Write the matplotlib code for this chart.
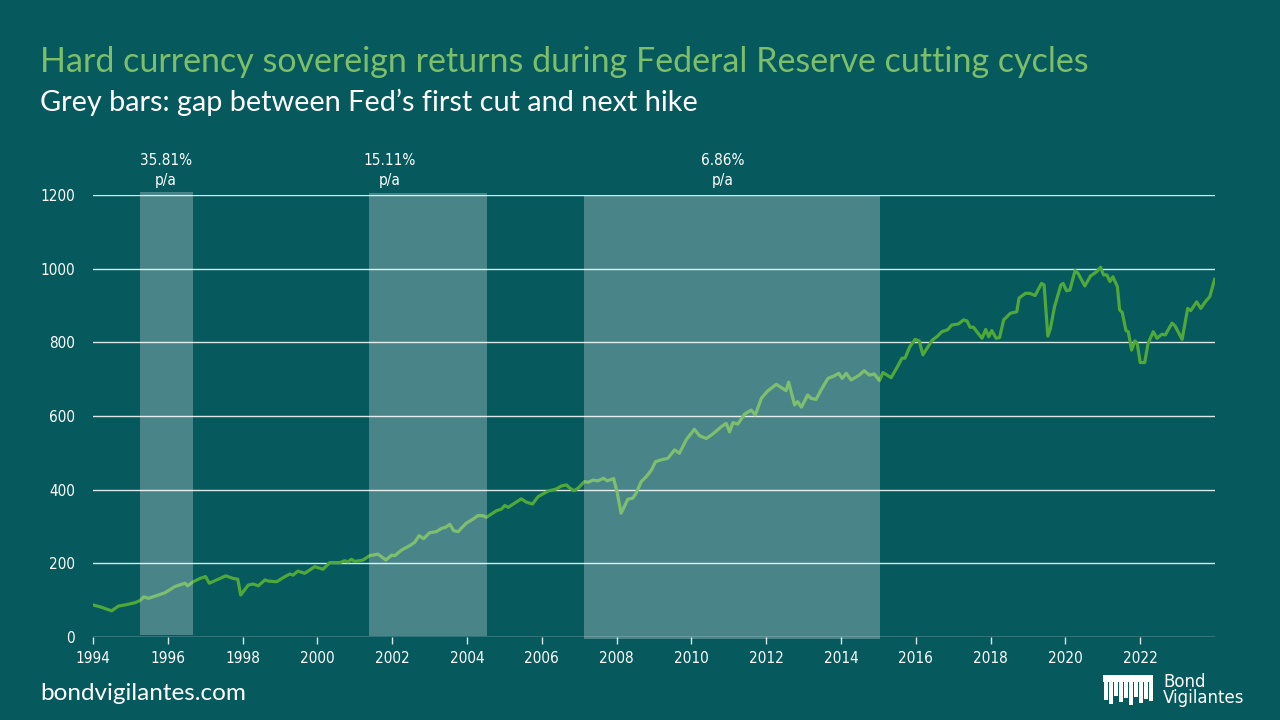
import matplotlib

matplotlib.use("Agg")
import matplotlib.pyplot as plt
from matplotlib.patches import Rectangle


BG = "#06595d"
LINE_GREEN = "#4ea83a"
TITLE_GREEN = "#7dbf69"
GRID = "#dce8e8"
NARROW = ["Liberation Sans Narrow", "DejaVu Sans"]

# decimal year / index level
dates = [
    1994.0, 1994.19, 1994.5, 1994.68, 1994.85, 1995.12, 1995.26, 1995.36, 1995.48, 1995.66,
    1995.92, 1996.19, 1996.46, 1996.53, 1996.68, 1996.86, 1997.01, 1997.11, 1997.35, 1997.55,
    1997.75, 1997.87, 1997.95, 1998.15, 1998.28, 1998.42, 1998.6, 1998.68, 1998.91, 1999.1,
    1999.26, 1999.35, 1999.48, 1999.66, 1999.93, 2000.15, 2000.33, 2000.6, 2000.73, 2000.82,
    2000.91, 2001.0, 2001.22, 2001.4, 2001.62, 2001.83, 2001.98, 2002.07, 2002.25, 2002.47,
    2002.6, 2002.72, 2002.84, 2003.0, 2003.18, 2003.32, 2003.43, 2003.54, 2003.64, 2003.76,
    2003.98, 2004.16, 2004.3, 2004.43, 2004.52, 2004.79, 2004.92, 2005.01, 2005.1, 2005.45,
    2005.59, 2005.75, 2005.9, 2006.16, 2006.39, 2006.52, 2006.66, 2006.74, 2006.86, 2006.97,
    2007.14, 2007.23, 2007.37, 2007.5, 2007.65, 2007.75, 2007.92, 2008.01, 2008.12, 2008.3,
    2008.43, 2008.52, 2008.66, 2008.79, 2008.93, 2009.04, 2009.19, 2009.37, 2009.55, 2009.68,
    2009.86, 2010.08, 2010.22, 2010.4, 2010.57, 2010.8, 2010.93, 2011.02, 2011.11, 2011.24,
    2011.42, 2011.6, 2011.71, 2011.87, 2012.04, 2012.27, 2012.53, 2012.6, 2012.76, 2012.84,
    2012.94, 2013.11, 2013.2, 2013.33, 2013.47, 2013.65, 2013.82, 2013.94, 2014.03, 2014.14,
    2014.27, 2014.49, 2014.62, 2014.76, 2014.89, 2015.03, 2015.12, 2015.34, 2015.51, 2015.63,
    2015.71, 2015.84, 2015.98, 2016.09, 2016.19, 2016.44, 2016.56, 2016.7, 2016.85, 2016.96,
    2017.14, 2017.28, 2017.37, 2017.45, 2017.54, 2017.77, 2017.87, 2017.95, 2018.03, 2018.15,
    2018.24, 2018.35, 2018.53, 2018.7, 2018.76, 2018.93, 2019.05, 2019.19, 2019.36, 2019.43,
    2019.53, 2019.6, 2019.71, 2019.88, 2019.94, 2020.03, 2020.12, 2020.26, 2020.34, 2020.52,
    2020.67, 2020.84, 2020.94, 2021.02, 2021.11, 2021.19, 2021.27, 2021.39, 2021.45, 2021.52,
    2021.62, 2021.68, 2021.77, 2021.86, 2021.92, 2022.0, 2022.12, 2022.21, 2022.35, 2022.45,
    2022.58, 2022.67, 2022.85, 2022.93, 2023.12, 2023.27, 2023.35, 2023.51, 2023.62, 2023.74,
    2023.86, 2023.99,
]
values = [
    87, 82, 71, 84, 87, 93, 99, 109, 105, 111,
    120, 137, 146, 139, 150, 159, 164, 146, 157, 166,
    159, 157, 114, 141, 144, 139, 155, 152, 150, 162,
    171, 168, 179, 173, 191, 184, 202, 202, 207, 204,
    211, 205, 209, 221, 225, 209, 222, 221, 236, 248,
    257, 275, 267, 283, 286, 295, 298, 306, 289, 286,
    309, 320, 330, 329, 325, 343, 347, 357, 352, 375,
    366, 361, 381, 396, 402, 410, 413, 405, 397, 404,
    422, 420, 426, 424, 431, 424, 430, 395, 336, 374,
    377, 390, 422, 435, 453, 476, 481, 485, 508, 499,
    535, 564, 546, 539, 551, 571, 580, 557, 582, 578,
    605, 616, 603, 648, 668, 686, 669, 692, 630, 639,
    624, 657, 648, 645, 671, 702, 709, 716, 702, 716,
    698, 711, 723, 711, 714, 696, 718, 704, 734, 757,
    757, 788, 808, 804, 766, 806, 815, 829, 834, 847,
    850, 861, 858, 841, 841, 811, 835, 815, 832, 811,
    813, 861, 879, 883, 920, 933, 933, 927, 960, 956,
    817, 838, 897, 956, 960, 940, 942, 995, 987, 953,
    980, 992, 1004, 983, 983, 965, 978, 951, 888, 881,
    832, 829, 779, 804, 797, 745, 745, 797, 829, 811,
    822, 820, 852, 845, 808, 892, 886, 910, 892, 910,
    924, 971,
]

# grey bars: Fed's first cut -> next hike
bar_starts = [1995.26, 2001.37, 2007.12]
bar_ends = [1996.67, 2004.53, 2015.05]
bar_bottoms = [5, 3, -5]
bar_tops = [1208, 1205, 1198]
bar_labels = ["35.81%\np/a", "15.11%\np/a", "6.86%\np/a"]
label_x = [1995.95, 2001.93, 2010.83]

year_ticks = list(range(1994, 2023, 2))
value_ticks = [0, 200, 400, 600, 800, 1000, 1200]


def draw_logo(fig):
    # rough white "fringe" mark next to the Bond Vigilantes name
    band = Rectangle((1103, 38), 50, 7, transform=None, facecolor="white", edgecolor="none")
    fig.patches.append(band)
    strands = [(1104, 20), (1109, 16), (1114, 24), (1119, 18), (1124, 22), (1129, 15),
               (1134, 23), (1139, 17), (1144, 21), (1149, 19)]
    for x0, y0 in strands:
        fig.patches.append(Rectangle((x0, y0), 3.5, 42 - y0, transform=None,
                                     facecolor="white", edgecolor="none"))
    fig.text(1163 / 1280, 1 - 682 / 720, "Bond", color="white", fontsize=12,
             family="DejaVu Sans", va="center", ha="left")
    fig.text(1163 / 1280, 1 - 698 / 720, "Vigilantes", color="white", fontsize=12,
             family="DejaVu Sans", va="center", ha="left")


def main():
    fig = plt.figure(figsize=(12.8, 7.2), dpi=100, facecolor=BG)
    ax = fig.add_axes([93 / 1280, 1 - 637 / 720, (1215 - 93) / 1280, (637 - 195) / 720])
    ax.set_facecolor(BG)

    ax.plot(dates, values, color=LINE_GREEN, linewidth=2.3, zorder=3, solid_joinstyle="round")

    for start, end, bottom, top in zip(bar_starts, bar_ends, bar_bottoms, bar_tops):
        ax.bar(start, top - bottom, width=end - start, bottom=bottom, align="edge",
               color="white", alpha=0.27, linewidth=0, zorder=4, clip_on=False)

    for x, text in zip(label_x, bar_labels):
        ax.text(x, 1266, text, color="white", fontsize=11, family=NARROW,
                fontstretch="condensed", ha="center", va="center", linespacing=1.45)

    ax.set_xlim(1994, 2024)
    ax.set_ylim(0, 1200)
    ax.set_xticks(year_ticks)
    ax.set_xticklabels([str(y) for y in year_ticks])
    ax.set_yticks(value_ticks)
    ax.set_yticklabels([str(v) for v in value_ticks])
    ax.tick_params(axis="x", colors=GRID, length=5, width=1, labelcolor="white",
                   labelsize=11, pad=5)
    ax.tick_params(axis="y", length=0, labelcolor="white", labelsize=11, pad=13)
    for label in ax.get_xticklabels() + ax.get_yticklabels():
        label.set_family(NARROW)
        label.set_fontstretch("condensed")

    ax.grid(axis="y", color=GRID, linewidth=1.0, zorder=1)
    ax.set_axisbelow(True)
    for spine in ax.spines.values():
        spine.set_visible(False)

    fig.text(40 / 1280, 1 - 62 / 720,
             "Hard currency sovereign returns during Federal Reserve cutting cycles",
             color=TITLE_GREEN, fontsize=24.5, family=["Lato", "DejaVu Sans"],
             va="center", ha="left")
    fig.text(40 / 1280, 1 - 102 / 720,
             "Grey bars: gap between Fed\u2019s first cut and next hike",
             color="white", fontsize=20.8, family=["Lato", "DejaVu Sans"],
             va="center", ha="left")
    fig.text(40 / 1280, 1 - 693 / 720, "bondvigilantes.com", color="white",
             fontsize=17.5, family=["Lato", "DejaVu Sans"], va="center", ha="left")

    draw_logo(fig)

    fig.savefig("out.png", dpi=100, facecolor=BG)
    plt.close(fig)


if __name__ == "__main__":
    main()
